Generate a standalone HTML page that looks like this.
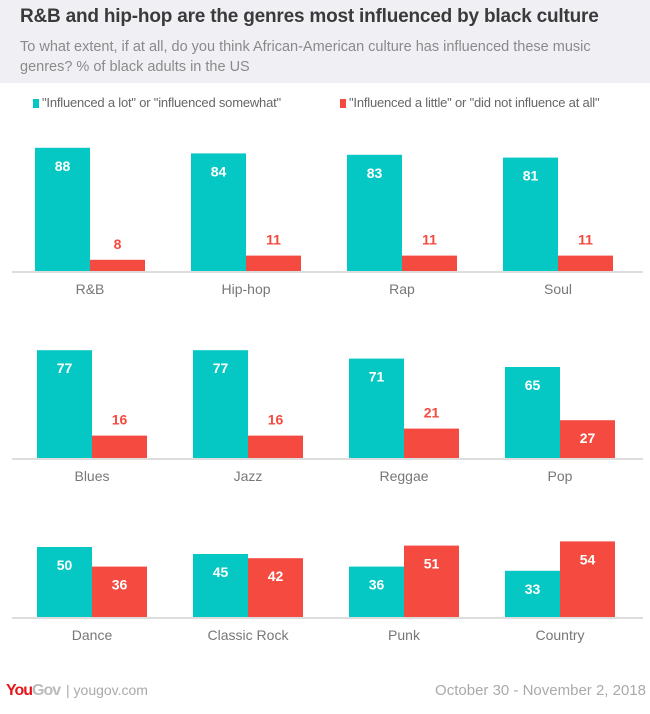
<!DOCTYPE html>
<html><head><meta charset="utf-8"><style>
body{margin:0;width:650px;height:714px;background:#fff;font-family:"Liberation Sans",sans-serif;overflow:hidden;position:relative}
.hdr{position:absolute;left:0;top:0;width:650px;height:83px;background:#f0eff4}
.t{position:absolute;left:20px;top:6px;font-size:19px;font-weight:bold;color:#3a3a3a;letter-spacing:-0.2px}
.s{position:absolute;left:20px;top:37px;font-size:14.5px;color:#8a8a8a;line-height:20px;width:620px}
.lg{position:absolute;top:95px;font-size:13px;color:#666;letter-spacing:-0.2px}
.lg span{display:inline-block;width:6px;height:9px;margin-right:3px;vertical-align:-1px}
.ft{position:absolute;top:682px;font-size:15px;color:#aaa;white-space:nowrap}
</style></head><body>
<div class="hdr"></div>
<div class="t">R&amp;B and hip-hop are the genres most influenced by black culture</div>
<div class="s">To what extent, if at all, do you think African-American culture has influenced these music genres? % of black adults in the US</div>
<div class="lg" style="left:33px"><span style="background:#05c7c3"></span>"Influenced a lot" or "influenced somewhat"</div>
<div class="lg" style="left:340px"><span style="background:#f44a3f"></span>"Influenced a little" or "did not influence at all"</div>
<svg id="c" width="650" height="714" style="position:absolute;left:0;top:0"></svg>
<div class="ft" style="left:6px;font-weight:bold;color:#e3161b;font-size:16px;letter-spacing:-1px">You<span style="color:#bbb">Gov</span></div>
<div class="ft" style="left:66px;font-size:14px">| yougov.com</div>
<div class="ft" style="right:4px">October 30 - November 2, 2018</div>
<script>
const categories=["R&B","Hip-hop","Rap","Soul","Blues","Jazz","Reggae","Pop","Dance","Classic Rock","Punk","Country"];
const influenced=[88,84,83,81,77,77,71,65,50,45,36,33];
const notInfluenced=[8,11,11,11,16,16,21,27,36,42,51,54];
const svg=document.getElementById('c');
const NS="http://www.w3.org/2000/svg";
const baselines=[271,458,617];
const yScale=v=>v*1.4;
function mk(tag,attrs){const e=document.createElementNS(NS,tag);for(const k in attrs)e.setAttribute(k,attrs[k]);svg.appendChild(e);return e;}
for(let r=0;r<3;r++){
  const ln=mk('line',{x1:12,x2:643,y1:baselines[r]+1,y2:baselines[r]+1,stroke:'#ddd','stroke-width':2});
  
  
}
categories.forEach((c,i)=>{
  const r=Math.floor(i/4),col=i%4;
  const x0=(r==0?35:37)+col*156,b=baselines[r],w=55;
  const h1=yScale(influenced[i]),h2=yScale(notInfluenced[i]);
  const b1=mk('rect',{x:x0,y:b-h1,width:w,height:h1,fill:'#05c7c3'});
  
  
  const b2=mk('rect',{x:x0+w,y:b-h2,width:w,height:h2,fill:'#f44a3f'});
  
  
  const t1=mk('text',{x:x0+w/2,y:b-h1+23,'text-anchor':'middle','font-size':14,'font-weight':'bold',fill:'#fff'});
  t1.textContent=influenced[i];
  
  
  const inside=notInfluenced[i]>25;
  const t2=mk('text',{x:x0+w*1.5,y:inside?b-h2+23:b-h2-11,'text-anchor':'middle','font-size':14,'font-weight':'bold',fill:inside?'#fff':'#f44a3f'});
  t2.textContent=notInfluenced[i];
  
  
  const l=mk('text',{x:x0+w,y:b+23,'text-anchor':'middle','font-size':14,fill:'#777'});
  l.textContent=c;
  
  
});
</script>
</body></html>
